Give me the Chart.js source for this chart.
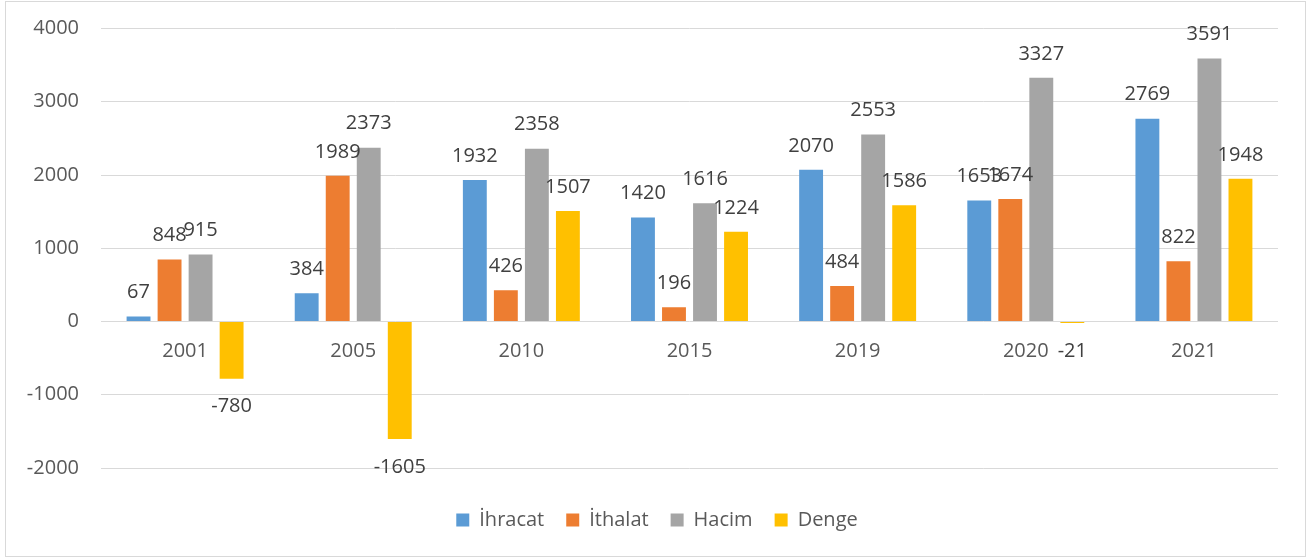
<!DOCTYPE html>
<html>
<head>
<meta charset="utf-8">
<script src="https://cdn.jsdelivr.net/npm/chart.js@4.4.1/dist/chart.umd.min.js"></script>
<style>
  html, body { margin: 0; padding: 0; background: #ffffff; }
  canvas { display: block; }
</style>
</head>
<body>
<canvas id="c" width="1309" height="560"></canvas>
<script>
// ---- Data ----
const years = ['2001', '2005', '2010', '2015', '2019', '2020', '2021'];
const ihracat = [67, 384, 1932, 1420, 2070, 1653, 2769];
const ithalat = [848, 1989, 426, 196, 484, 1674, 822];
const hacim = [915, 2373, 2358, 1616, 2553, 3327, 3591];
const denge = [-780, -1605, 1507, 1224, 1586, -21, 1948];
const seriesNames = ['İhracat', 'İthalat', 'Hacim', 'Denge'];
const yTicks = [-2000, -1000, 0, 1000, 2000, 3000, 4000];

const colors = ['#5B9BD5', '#ED7D31', '#A5A5A5', '#FFC000'];
const FONT = '"Open Sans", "Noto Sans", sans-serif';

const frame = {
  id: 'frame',
  beforeDraw(chart) {
    const ctx = chart.ctx;
    ctx.save();
    ctx.fillStyle = '#ffffff';
    ctx.fillRect(0, 0, chart.width, chart.height);
    ctx.strokeStyle = '#d9d9d9';
    ctx.lineWidth = 1;
    ctx.strokeRect(5.5, 1.5, 1300, 555);
    ctx.restore();
  }
};

// centre the legend on the whole frame rather than the padded area
const legendShift = {
  id: 'legendShift',
  afterLayout(chart) {
    const lg = chart.legend;
    if (lg) { lg.left += 18; lg.right += 18; }
  }
};

const valueLabels = {
  id: 'valueLabels',
  afterDatasetsDraw(chart) {
    const ctx = chart.ctx;
    ctx.save();
    ctx.font = '20px ' + FONT;
    ctx.fillStyle = '#404040';
    ctx.textAlign = 'center';
    ctx.textBaseline = 'middle';
    chart.data.datasets.forEach((ds, i) => {
      const meta = chart.getDatasetMeta(i);
      meta.data.forEach((el, j) => {
        const v = ds.data[j];
        const y = v >= 0 ? el.y - 24 : el.y + 28;
        ctx.fillText(String(v), el.x, y);
      });
    });
    ctx.restore();
  }
};

new Chart(document.getElementById('c'), {
  type: 'bar',
  data: {
    labels: years,
    datasets: [ihracat, ithalat, hacim, denge].map((d, i) => ({
      label: seriesNames[i],
      data: d,
      backgroundColor: colors[i],
      borderWidth: 0,
      categoryPercentage: 0.738,
      barPercentage: 0.77
    }))
  },
  options: {
    responsive: false,
    animation: false,
    devicePixelRatio: 1,
    layout: { padding: { left: 0, right: 31, top: 28.5, bottom: 20 } },
    scales: {
      x: {
        position: { y: 0 },
        grid: { display: false, drawTicks: false },
        border: { display: false },
        ticks: { color: '#595959', font: { family: FONT, size: 20 }, padding: 18, maxRotation: 0 }
      },
      y: {
        min: -2000,
        max: 4000,
        afterFit(scale) { scale.width = 101; },
        afterBuildTicks(scale) { scale.ticks = yTicks.map(v => ({ value: v })); },
        grid: { color: '#d9d9d9', lineWidth: 1, drawTicks: true, tickLength: 22, tickColor: 'rgba(0,0,0,0)' },
        border: { display: false },
        ticks: {
          color: '#595959', font: { family: FONT, size: 20 }, padding: 0,
          callback: (v) => String(v)
        }
      }
    },
    plugins: {
      tooltip: { enabled: false },
      legend: {
        position: 'bottom',
        title: { display: true, text: '', padding: { top: 5.6, bottom: 0 } },
        labels: {
          color: '#595959',
          font: { family: FONT, size: 20 },
          boxWidth: 13,
          boxHeight: 13,
          padding: 22
        }
      }
    }
  },
  plugins: [frame, legendShift, valueLabels]
});
</script>
</body>
</html>
